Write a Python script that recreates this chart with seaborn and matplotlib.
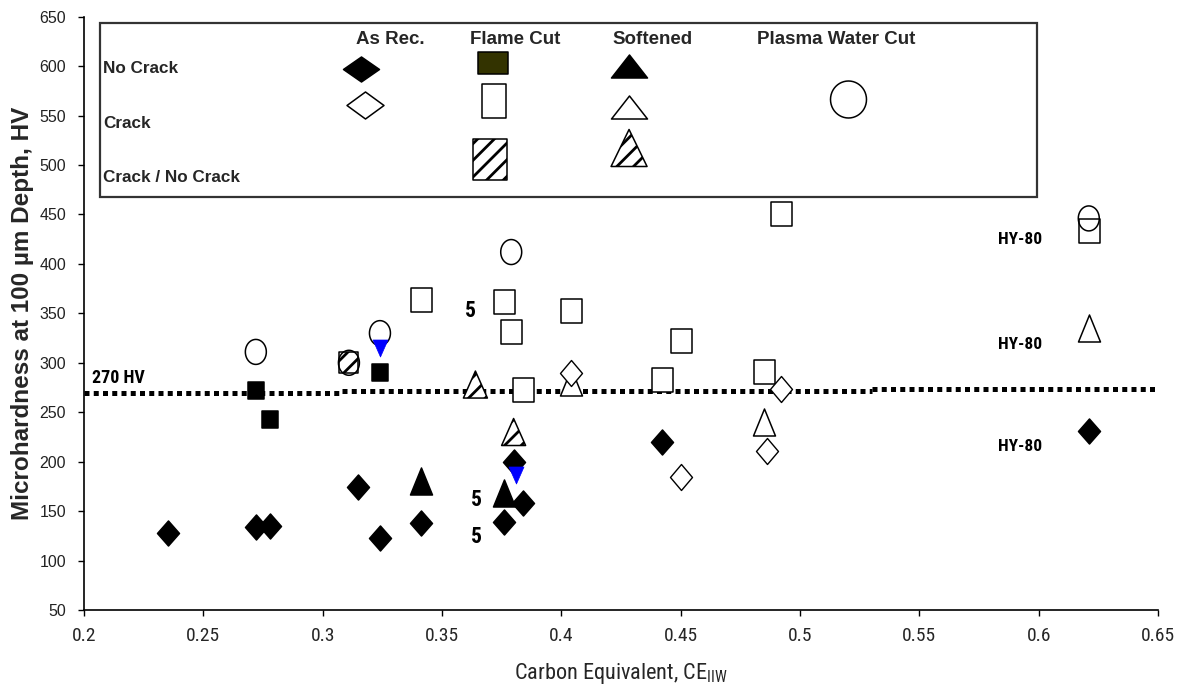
import numpy as np
import matplotlib
matplotlib.use("Agg")
import matplotlib.pyplot as plt
from matplotlib.path import Path
from matplotlib.patches import Rectangle
from matplotlib import font_manager
import seaborn as sns

# ---------------- data ----------------
asrec_nocrack_ce = [0.235, 0.272, 0.278, 0.315, 0.324, 0.341, 0.376, 0.380, 0.384, 0.442, 0.621]
asrec_nocrack_hv = [128, 134, 135, 174, 123, 138, 139, 200, 158, 220, 231]
asrec_crack_ce = [0.404, 0.450, 0.492, 0.486]
asrec_crack_hv = [290, 185, 273, 211]

flame_nocrack_ce = [0.272, 0.278, 0.324]
flame_nocrack_hv = [272, 243, 291]
flame_crack_ce = [0.341, 0.376, 0.379, 0.384, 0.404, 0.450, 0.442, 0.485, 0.492, 0.621]
flame_crack_hv = [363, 361, 331, 272, 352, 322, 283, 291, 450, 433]
flame_mixed_ce = [0.311]
flame_mixed_hv = [300]

soft_nocrack_ce = [0.341, 0.376]
soft_nocrack_hv = [180, 168]
soft_crack_ce = [0.404, 0.485, 0.621]
soft_crack_hv = [281, 240, 335]
soft_mixed_ce = [0.364, 0.380]
soft_mixed_hv = [278, 230]

plasma_crack_ce = [0.272, 0.311, 0.324, 0.379, 0.621]
plasma_crack_hv = [311, 300, 330, 412, 446]

arrow_ce = [0.324, 0.381]
arrow_hv = [315, 187]

threshold_ce = [0.2, 0.308, 0.530, 0.65]
threshold_hv = [269.8, 271.8, 273.2]

count_labels = ["5", "5", "5"]
count_ce = [0.362, 0.3645, 0.3645]
count_hv = [352, 161, 124]

hy80_labels = ["HY-80", "HY-80", "HY-80"]
hy80_ce = [0.592, 0.592, 0.592]
hy80_hv = [425, 318, 215]

x_ticks = [0.2, 0.25, 0.3, 0.35, 0.4, 0.45, 0.5, 0.55, 0.6, 0.65]
x_ticklabels = ["0.2", "0.25", "0.3", "0.35", "0.4", "0.45", "0.5", "0.55", "0.6", "0.65"]
y_ticks = [50, 100, 150, 200, 250, 300, 350, 400, 450, 500, 550, 600, 650]

legend_cols = ["As Rec.", "Flame Cut", "Softened", "Plasma Water Cut"]
legend_rows = ["No Crack", "Crack", "Crack / No Crack"]

# ---------------- styling ----------------
DPI = 100
sns.set_style("white")

names = {f.name for f in font_manager.fontManager.ttflist}
condensed_dejavu = any(f.name == "DejaVu Sans" and f.stretch == "condensed"
                       for f in font_manager.fontManager.ttflist)
NARROW, STRETCH = "DejaVu Sans", "normal"
for cand in ["Liberation Sans Narrow", "Arial Narrow", "Roboto Condensed",
             "Open Sans Condensed", "Noto Sans Condensed"]:
    if cand in names:
        NARROW = cand
        break
else:
    if condensed_dejavu:
        STRETCH = "condensed"
ARIAL = "Liberation Sans" if "Liberation Sans" in names else "DejaVu Sans"

plt.rcParams["font.family"] = [ARIAL, "DejaVu Sans"]
plt.rcParams["hatch.linewidth"] = 2.0
plt.rcParams["mathtext.fontset"] = "custom"
plt.rcParams["mathtext.rm"] = NARROW
plt.rcParams["mathtext.it"] = NARROW
plt.rcParams["mathtext.bf"] = NARROW


def shape(kind, w, h):
    """Marker path with a given pixel width/height; returns (path, scatter size)."""
    if kind == "diamond":
        v = [(0, h / 2), (w / 2, 0), (0, -h / 2), (-w / 2, 0), (0, h / 2)]
    elif kind == "square":
        v = [(-w / 2, -h / 2), (w / 2, -h / 2), (w / 2, h / 2), (-w / 2, h / 2), (-w / 2, -h / 2)]
    elif kind == "tri":
        v = [(-w / 2, -h / 2), (w / 2, -h / 2), (0, h / 2), (-w / 2, -h / 2)]
    elif kind == "tri_down":
        v = [(-w / 2, h / 2), (w / 2, h / 2), (0, -h / 2), (-w / 2, h / 2)]
    else:  # ellipse
        t = np.linspace(0, 2 * np.pi, 49)
        v = list(zip(w / 2 * np.cos(t), h / 2 * np.sin(t)))
    path = Path(v, closed=True)
    size = (max(w, h) * 72.0 / DPI) ** 2
    return path, size


fig = plt.figure(figsize=(11.81, 6.95), dpi=DPI)
ax = fig.add_axes([84 / 1181, 1 - 610 / 695, (1158 - 84) / 1181, (610 - 16.7) / 695])


def draw(xs, ys, kind, w, h, fc, ec="black", lw=1.1, hatch=None, z=3):
    m, s = shape(kind, w, h)
    kws = dict(marker=m, s=s, facecolor=fc, edgecolor=ec, linewidth=lw, zorder=z)
    if hatch:
        kws["hatch"] = hatch
    sns.scatterplot(x=xs, y=ys, ax=ax, color=ec, legend=False, **kws)


# threshold line (270 HV), drawn in three slightly offset pieces as in the reference
for i in range(len(threshold_hv)):
    ax.plot(threshold_ce[i:i + 2], [threshold_hv[i]] * 2, color="black", lw=3.6,
            linestyle=(0, (1.0, 0.85)), dash_capstyle="butt", zorder=2)

draw(flame_crack_ce, flame_crack_hv, "square", 21, 24, "white")
draw(flame_mixed_ce, flame_mixed_hv, "square", 19, 21, "white", hatch="//")
draw(plasma_crack_ce, plasma_crack_hv, "ellipse", 21, 25, "none", z=4)
draw(soft_crack_ce, soft_crack_hv, "tri", 22, 27, "white")
draw(soft_mixed_ce, soft_mixed_hv, "tri", 24, 27, "white", hatch="//")
draw(asrec_crack_ce, asrec_crack_hv, "diamond", 22, 26, "white", lw=1.0)
draw(flame_nocrack_ce, flame_nocrack_hv, "square", 16, 17, "black")
draw(soft_nocrack_ce, soft_nocrack_hv, "tri", 22, 27, "black")
draw(asrec_nocrack_ce, asrec_nocrack_hv, "diamond", 22, 25, "black")
draw(arrow_ce, arrow_hv, "tri_down", 15, 17, "#0000ff", ec="#0000ff", lw=0.5, z=5)

bold_narrow = dict(family=[NARROW, "DejaVu Sans"], fontstretch=STRETCH,
                   fontweight="bold", color="black")
for t, x, y in zip(count_labels, count_ce, count_hv):
    ax.text(x, y, t, fontsize=15.5, ha="center", va="center", **bold_narrow)
for t, x, y in zip(hy80_labels, hy80_ce, hy80_hv):
    ax.text(x, y, t, fontsize=12.5, ha="center", va="center", **bold_narrow)
ax.text(0.2035, 284.5, "270 HV", fontsize=13, ha="left", va="center", **bold_narrow)

# ---------------- legend box (drawn manually, grid layout like the reference) ----------------
ax.add_patch(Rectangle((0.0148, 0.696), 0.873, 0.293, transform=ax.transAxes,
                       facecolor="white", edgecolor="#333333", lw=1.6, zorder=6))
col_x = [0.2850, 0.4015, 0.5295, 0.7005]
for t, x in zip(legend_cols, col_x):
    ax.text(x, 0.9623, t, transform=ax.transAxes, ha="center", va="center",
            fontsize=13.5, fontweight="bold", zorder=7)
row_y = [0.9135, 0.8208, 0.7298]
for t, y in zip(legend_rows, row_y):
    ax.text(0.0176, y, t, transform=ax.transAxes, ha="left", va="center",
            fontsize=12.3, fontweight="bold", zorder=7)

legend_items = [
    (0.2576, 0.9113, "diamond", 36, 25, "black", None),
    (0.2616, 0.8512, "diamond", 37, 27, "white", None),
    (0.3811, 0.9215, "square", 30, 22, "#333300", None),
    (0.3817, 0.8575, "square", 25, 34, "white", None),
    (0.3780, 0.7596, "square", 34, 41, "white", "//"),
    (0.5077, 0.9169, "tri", 36, 23, "black", None),
    (0.5075, 0.8478, "tri", 36, 23, "white", None),
    (0.5075, 0.7787, "tri", 36, 37, "white", "//"),
    (0.7111, 0.8608, "ellipse", 36, 37, "white", None),
]
for x, y, kind, w, h, fc, hatch in legend_items:
    m, s = shape(kind, w, h)
    kws = dict(marker=m, s=s, facecolor=fc, edgecolor="black", linewidth=1.1,
               transform=ax.transAxes, zorder=8, clip_on=False)
    if hatch:
        kws["hatch"] = hatch
    ax.scatter([x], [y], **kws)

# ---------------- axes ----------------
ax.set_xlim(0.2, 0.65)
ax.set_ylim(50, 650)
ax.set_xticks(x_ticks)
ax.set_xticklabels(x_ticklabels, family=[NARROW, "DejaVu Sans"], fontstretch=STRETCH,
                   fontsize=14)
ax.set_yticks(y_ticks)
ax.set_yticklabels([str(v) for v in y_ticks], fontsize=11.5, color="#222222")
ax.tick_params(axis="y", direction="out", length=4, width=1, color="black", left=True, pad=9)
ax.tick_params(axis="x", direction="out", length=4, width=1, color="black", bottom=True, pad=8)
for side in ["top", "right"]:
    ax.spines[side].set_visible(False)
for side in ["left", "bottom"]:
    ax.spines[side].set_color("black")
    ax.spines[side].set_linewidth(1.2)

ax.set_xlabel("Carbon Equivalent, CE$_{\\mathrm{IIW}}$", family=[NARROW, "DejaVu Sans"],
              fontstretch=STRETCH, fontsize=16, labelpad=12)
ax.set_ylabel("Microhardness at 100 µm Depth, HV", fontsize=17.5, fontweight="bold", labelpad=4)

fig.savefig("out.png", dpi=DPI)
